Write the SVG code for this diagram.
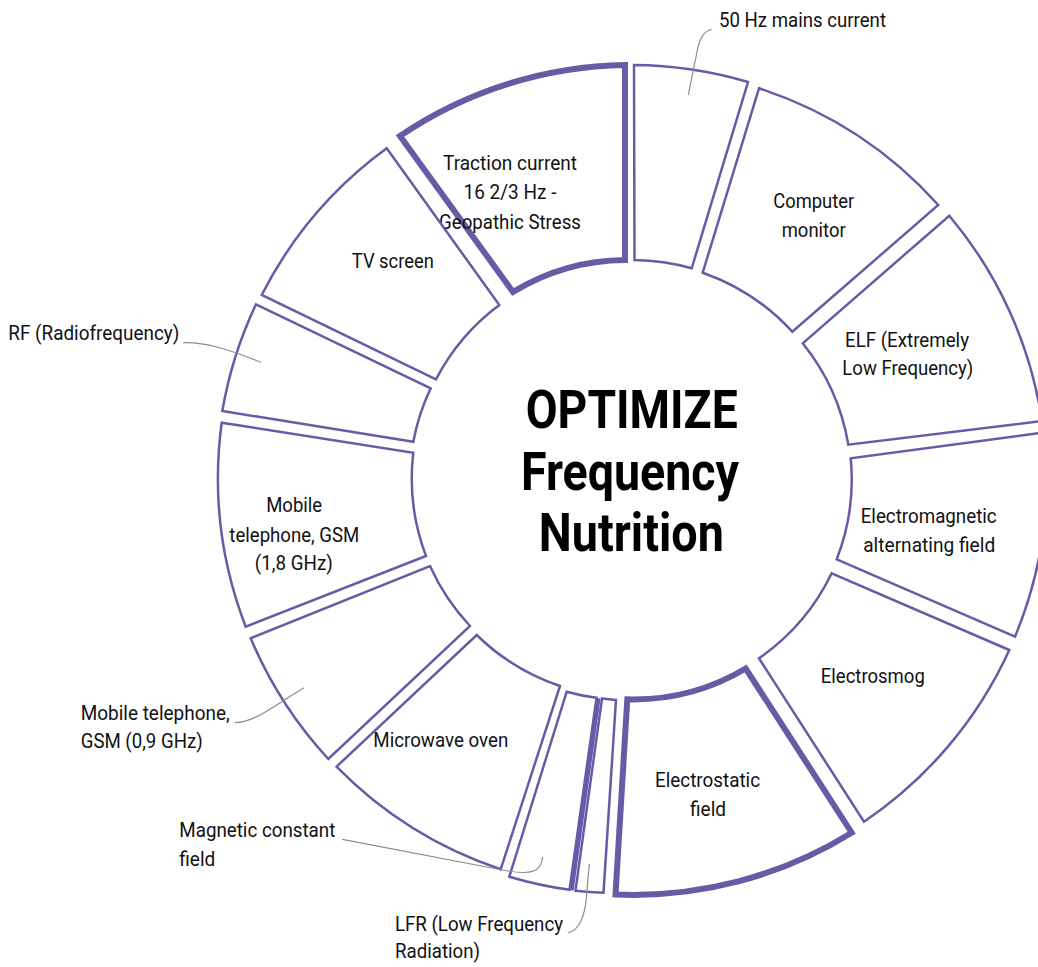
<svg xmlns="http://www.w3.org/2000/svg" width="1038" height="967" viewBox="0 0 1038 967">
  <style>
    .seg { fill: #ffffff; stroke: #6a5aa6; stroke-width: 2.5; stroke-linejoin: miter; }
    .seg.hi { stroke-width: 6; }
    .lbl { font-family: Roboto, "Liberation Sans", sans-serif; font-size: 21px; fill: #111111; text-anchor: middle; }
    .ext { font-family: Roboto, "Liberation Sans", sans-serif; font-size: 21px; fill: #111111; text-anchor: start; }
    .title { font-family: Roboto, "Liberation Sans", sans-serif; font-size: 54px; font-weight: bold; fill: #000000; text-anchor: middle; }
    .lead { fill: none; stroke: #8c8c8c; stroke-width: 1.2; }
    .bar { fill: none; stroke: #6a5aa6; stroke-width: 4.5; }
  </style>
  <rect width="1038" height="967" fill="#ffffff"/>

  <!-- ring segments, outer radius 414, inner radius 219 -->
  <g id="seg-traction">
    <path class="seg hi" d="M400,136 A414,414 0 0 1 625,65 L625,260 A219,219 0 0 0 513,292 Z"/>
    <text class="lbl" x="510" y="170" textLength="134" lengthAdjust="spacingAndGlyphs">Traction current</text>
    <text class="lbl" x="510" y="198.5" textLength="93" lengthAdjust="spacingAndGlyphs">16 2/3 Hz -</text>
    <text class="lbl" x="510" y="228.5" textLength="142" lengthAdjust="spacingAndGlyphs">Geopathic Stress</text>
  </g>
  <g id="seg-50hz">
    <path class="seg" d="M634,65 A414,414 0 0 1 748,82 L691.7,268.3 A219,219 0 0 0 634.5,260 Z"/>
  </g>
  <g id="seg-computer">
    <path class="seg" d="M759,88.3 A414,414 0 0 1 938.3,205 L792.3,331.7 A219,219 0 0 0 702.7,272.7 Z"/>
    <text class="lbl" x="813.7" y="207.7" textLength="81" lengthAdjust="spacingAndGlyphs">Computer</text>
    <text class="lbl" x="813.7" y="236.7" textLength="64" lengthAdjust="spacingAndGlyphs">monitor</text>
  </g>
  <g id="seg-elf">
    <path class="seg" d="M949.3,215.7 A414,414 0 0 1 1042,421 L848.3,444.7 A219,219 0 0 0 802.7,343.3 Z"/>
    <text class="lbl" x="907" y="346.7" textLength="124" lengthAdjust="spacingAndGlyphs">ELF (Extremely</text>
    <text class="lbl" x="907.8" y="375" textLength="131" lengthAdjust="spacingAndGlyphs">Low Frequency)</text>
  </g>
  <g id="seg-em-alternating">
    <path class="seg" d="M1044,432.5 A414,414 0 0 1 1015,636.7 L836.7,559.3 A219,219 0 0 0 850.7,458.3 Z"/>
    <text class="lbl" x="928.7" y="522.7" textLength="136" lengthAdjust="spacingAndGlyphs">Electromagnetic</text>
    <text class="lbl" x="929.2" y="551.7" textLength="132" lengthAdjust="spacingAndGlyphs">alternating field</text>
  </g>
  <g id="seg-electrosmog">
    <path class="seg" d="M1009.3,650 A414,414 0 0 1 864,821.7 L759,658.3 A219,219 0 0 0 831.7,573.3 Z"/>
    <text class="lbl" x="872.8" y="683.3" textLength="104" lengthAdjust="spacingAndGlyphs">Electrosmog</text>
  </g>
  <g id="seg-electrostatic">
    <path class="seg hi" d="M851.7,832.7 A414,414 0 0 1 615.5,894.5 L627.3,699.3 A219,219 0 0 0 745.7,668.5 Z"/>
    <text class="lbl" x="707.5" y="786.7" textLength="105" lengthAdjust="spacingAndGlyphs">Electrostatic</text>
    <text class="lbl" x="708" y="815.7" textLength="36" lengthAdjust="spacingAndGlyphs">field</text>
  </g>
  <g id="seg-lfr">
    <path class="seg" d="M603.5,892.7 A414,414 0 0 1 575.5,890.7 L602,698.5 A219,219 0 0 0 616,700 Z"/>
  </g>
  <g id="seg-magnetic">
    <path class="seg" d="M569.5,889.8 A414,414 0 0 1 509.3,876.7 L566.7,691.7 A219,219 0 0 0 596.5,697.8 Z"/>
    <line class="bar" x1="598.3" y1="698.3" x2="571.5" y2="890.2"/>
  </g>
  <g id="seg-microwave">
    <path class="seg" d="M500.7,869.3 A414,414 0 0 1 336.5,766.7 L476.7,635 A219,219 0 0 0 560,686 Z"/>
    <text class="lbl" x="440.8" y="746.7" textLength="135" lengthAdjust="spacingAndGlyphs">Microwave oven</text>
  </g>
  <g id="seg-gsm-09">
    <path class="seg" d="M328.3,759 A414,414 0 0 1 250.7,638.3 L430,566 A219,219 0 0 0 470,626 Z"/>
  </g>
  <g id="seg-gsm-18">
    <path class="seg" d="M245.7,626.7 A414,414 0 0 1 221.7,422.7 L413.3,452.7 A219,219 0 0 0 426,556 Z"/>
    <text class="lbl" x="294.2" y="511.7" textLength="56" lengthAdjust="spacingAndGlyphs">Mobile</text>
    <text class="lbl" x="294.3" y="541.7" textLength="130" lengthAdjust="spacingAndGlyphs">telephone, GSM</text>
    <text class="lbl" x="293.8" y="570" textLength="78" lengthAdjust="spacingAndGlyphs">(1,8 GHz)</text>
  </g>
  <g id="seg-rf">
    <path class="seg" d="M222.3,411 A414,414 0 0 1 256,304.3 L430.7,388.3 A219,219 0 0 0 413.3,441.7 Z"/>
  </g>
  <g id="seg-tv">
    <path class="seg" d="M261.7,295 A414,414 0 0 1 386.7,148.3 L499.3,305 A219,219 0 0 0 436,379.3 Z"/>
    <text class="lbl" x="392.8" y="268.3" textLength="82" lengthAdjust="spacingAndGlyphs">TV screen</text>
  </g>

  <!-- centre title -->
  <g id="title">
    <text class="title" x="631.7" y="428" textLength="212" lengthAdjust="spacingAndGlyphs">OPTIMIZE</text>
    <text class="title" x="630" y="490" textLength="218" lengthAdjust="spacingAndGlyphs">Frequency</text>
    <text class="title" x="631.3" y="551" textLength="185" lengthAdjust="spacingAndGlyphs">Nutrition</text>
  </g>

  <!-- outside labels -->
  <g id="labels-outside">
    <text class="ext" x="719" y="26.7" textLength="167" lengthAdjust="spacingAndGlyphs">50 Hz mains current</text>
    <text class="ext" x="8.3" y="339.5" textLength="171" lengthAdjust="spacingAndGlyphs">RF (Radiofrequency)</text>
    <text class="ext" x="80.7" y="720" textLength="149" lengthAdjust="spacingAndGlyphs">Mobile telephone,</text>
    <text class="ext" x="80.7" y="748.3" textLength="122" lengthAdjust="spacingAndGlyphs">GSM (0,9 GHz)</text>
    <text class="ext" x="179.3" y="837.3" textLength="156" lengthAdjust="spacingAndGlyphs">Magnetic constant</text>
    <text class="ext" x="179.3" y="866" textLength="36" lengthAdjust="spacingAndGlyphs">field</text>
    <text class="ext" x="395" y="930.7" textLength="168" lengthAdjust="spacingAndGlyphs">LFR (Low Frequency</text>
    <text class="ext" x="395" y="958.3" textLength="85" lengthAdjust="spacingAndGlyphs">Radiation)</text>
  </g>

  <!-- leader lines -->
  <g id="connectors">
    <path class="lead" d="M711.7,29.5 C703,31 699,40 697,52 L688.3,95"/>
    <path class="lead" d="M183.3,342.7 C205,342 228,349 261,362.3"/>
    <path class="lead" d="M235,722.7 C255,722 272,707 304,687.7"/>
    <path class="lead" d="M342.3,839.3 L505,870.5 C530,875 541,873 542.7,856.7"/>
    <path class="lead" d="M568.3,932.7 C580,930 585,915 586.5,896 L589.3,864"/>
  </g>
</svg>
